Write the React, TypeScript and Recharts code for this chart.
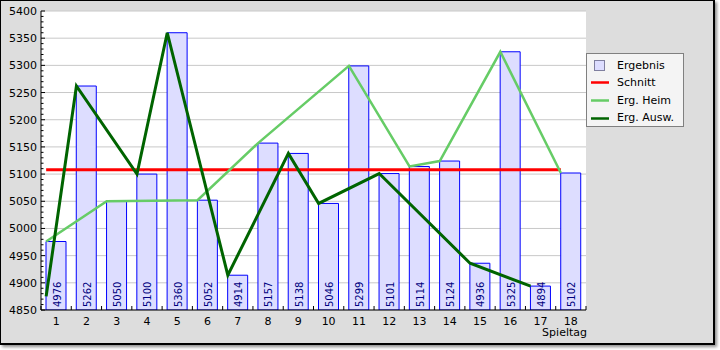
import React from 'react';
import { ComposedChart, Bar, Line, XAxis, YAxis, CartesianGrid, LabelList } from 'recharts';

const spieltage = [1, 2, 3, 4, 5, 6, 7, 8, 9, 10, 11, 12, 13, 14, 15, 16, 17, 18];
const ergebnis = [4976, 5262, 5050, 5100, 5360, 5052, 4914, 5157, 5138, 5046, 5299, 5101, 5114, 5124, 4936, 5325, 4894, 5102];
const schnitt = [5108, 5108, 5108, 5108, 5108, 5108, 5108, 5108, 5108, 5108, 5108, 5108, 5108, 5108, 5108, 5108, 5108, 5108];
const heim = [4976, null, 5050, null, null, 5052, null, 5157, null, null, 5299, null, 5114, 5124, null, 5325, null, 5102];
const auswaerts = [4875, 5262, null, 5100, 5360, null, 4914, null, 5138, 5046, null, 5101, null, null, 4936, null, 4894, null];
const majorTicks = [4850, 4900, 4950, 5000, 5050, 5100, 5150, 5200, 5250, 5300, 5350, 5400];
const legendItems = ['Ergebnis', 'Schnitt', 'Erg. Heim', 'Erg. Ausw.'];
const xAxisTitle = 'Spieltag';

const allTicks: number[] = [];
majorTicks.forEach((t, i) => {
  allTicks.push(t);
  if (i < majorTicks.length - 1) {
    for (let k = 1; k < 5; k++) allTicks.push(t + k * 10);
  }
});

const data = spieltage.map((t, i) => ({
  tag: t,
  ergebnis: ergebnis[i],
  schnitt: schnitt[i],
  heim: heim[i],
  ausw: auswaerts[i],
}));

const FONT = '"DejaVu Sans", sans-serif';
const CHART_W = 715;
const CHART_H = 345;
const M_RIGHT = 129;
const Y_W = 41;
const PLOT_W = CHART_W - M_RIGHT - Y_W;
const BAND = PLOT_W / spieltage.length;

const YTick = (props: any) => {
  const { x, y, payload } = props;
  const v = payload.value;
  const major = v % 50 === 0;
  return (
    <g>
      <line x1={x + 4} x2={x + (major ? 8 : 6.5)} y1={y} y2={y} stroke="#000" strokeWidth={1} />
      {major && (
        <text x={x} y={y + 4} textAnchor="end" fontFamily={FONT} fontSize={11} fill="#000">
          {v}
        </text>
      )}
    </g>
  );
};

const XTick = (props: any) => {
  const { x, y, payload, index } = props;
  const left = x - BAND / 2;
  const right = x + BAND / 2;
  return (
    <g>
      <line x1={left} x2={left} y1={y} y2={y - 4} stroke="#000" strokeWidth={1} />
      {index === spieltage.length - 1 && (
        <line x1={right} x2={right} y1={y} y2={y - 4} stroke="#000" strokeWidth={1} />
      )}
      <text x={x} y={y + 14.5} textAnchor="middle" fontFamily={FONT} fontSize={11} fill="#000">
        {payload.value}
      </text>
    </g>
  );
};

const BarValue = (props: any) => {
  const { x, y, width, height, value } = props;
  const cx = x + width / 2 + 1;
  const by = y + height - 3;
  return (
    <text
      x={cx}
      y={by}
      transform={`rotate(-90, ${cx}, ${by})`}
      textAnchor="start"
      dominantBaseline="central"
      fontFamily={FONT}
      fontSize={10}
      fill="#000080"
    >
      {value}
    </text>
  );
};

const AxisTitle = (props: any) => {
  const vb = props.viewBox || {};
  return (
    <text
      x={vb.x + vb.width + 1}
      y={vb.y + 26}
      textAnchor="end"
      fontFamily={FONT}
      fontSize={11}
      fill="#000"
    >
      {xAxisTitle}
    </text>
  );
};

const Legend = () => {
  const colors = ['#ff0000', '#66cc66', '#006400'];
  return (
    <svg
      width={98}
      height={74}
      style={{ position: 'absolute', left: 586, top: 53 }}
    >
      <rect x={0.5} y={0.5} width={97} height={73} fill="#f4f4f4" stroke="#808080" />
      <rect x={8.5} y={7.5} width={10} height={10} fill="#ddddff" stroke="#7f7f9f" />
      {[0, 1, 2].map((k) => (
        <line
          key={k}
          x1={5}
          x2={23}
          y1={29.5 + k * 18}
          y2={29.5 + k * 18}
          stroke={colors[k]}
          strokeWidth={2.5}
        />
      ))}
      {legendItems.map((t, i) => (
        <text key={t} x={31} y={15.5 + i * 17.6} fontFamily={FONT} fontSize={11} fill="#000">
          {t}
        </text>
      ))}
    </svg>
  );
};

export default function App() {
  return (
    <div style={{ position: 'absolute', left: 0, top: 0, width: 720, height: 350, background: '#ffffff' }}>
      <div
        style={{
          position: 'absolute',
          left: 0,
          top: 0,
          width: 715,
          height: 345,
          boxSizing: 'border-box',
          borderStyle: 'solid',
          borderColor: '#000',
          borderWidth: '1px 2px 2px 1px',
          background: '#dddddd',
          boxShadow: '2px 2px 3px rgba(0,0,0,0.45)',
        }}
      />
      <div style={{ position: 'absolute', left: 0, top: 0 }}>
        <ComposedChart
          width={CHART_W}
          height={CHART_H}
          data={data}
          margin={{ top: 11, right: M_RIGHT, bottom: 0, left: 0 }}
        >
          <CartesianGrid
            xAxisId="cat"
            yAxisId="y"
            vertical={false}
            fill="#ffffff"
            stroke="#c8c8c8"
            horizontalValues={majorTicks}
          />
          <XAxis
            xAxisId="cat"
            dataKey="tag"
            type="category"
            height={35}
            interval={0}
            tickLine={false}
            tickSize={0}
            tickMargin={0}
            axisLine={{ stroke: '#000' }}
            tick={<XTick />}
            label={<AxisTitle />}
          />
          <XAxis
            xAxisId="ln"
            dataKey="tag"
            type="number"
            domain={[0.83, 18.83]}
            allowDataOverflow
            hide
          />
          <YAxis
            yAxisId="y"
            domain={[4850, 5400]}
            ticks={allTicks}
            interval={0}
            width={Y_W}
            tickLine={false}
            tickSize={0}
            tickMargin={4}
            axisLine={{ stroke: '#000' }}
            tick={<YTick />}
            allowDataOverflow
          />
          <Bar
            xAxisId="cat"
            yAxisId="y"
            dataKey="ergebnis"
            barSize={20}
            fill="#ddddff"
            stroke="#0000ff"
            strokeWidth={1}
            isAnimationActive={false}
          >
            <LabelList dataKey="ergebnis" content={<BarValue />} />
          </Bar>
          <Line
            xAxisId="ln"
            yAxisId="y"
            dataKey="schnitt"
            type="linear"
            stroke="#ff0000"
            strokeWidth={3}
            dot={false}
            isAnimationActive={false}
          />
          <Line
            xAxisId="ln"
            yAxisId="y"
            dataKey="heim"
            type="linear"
            stroke="#66cc66"
            strokeWidth={2.5}
            dot={false}
            connectNulls
            isAnimationActive={false}
          />
          <Line
            xAxisId="ln"
            yAxisId="y"
            dataKey="ausw"
            type="linear"
            stroke="#006400"
            strokeWidth={3}
            dot={false}
            connectNulls
            isAnimationActive={false}
          />
        </ComposedChart>
      </div>
      <Legend />
    </div>
  );
}
